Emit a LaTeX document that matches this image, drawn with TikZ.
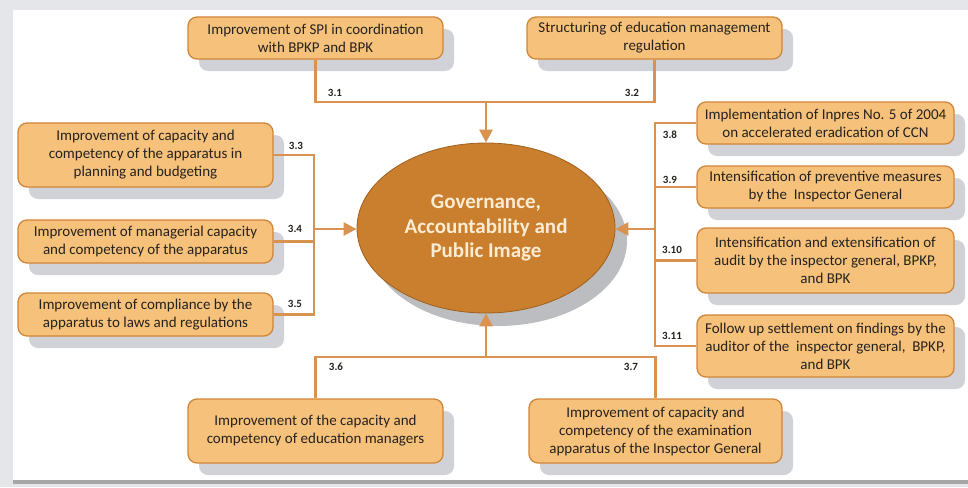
\documentclass[tikz,border=0pt]{standalone}
\usepackage{fontspec}
\setmainfont{Carlito}
\usepackage{tikz}
\usetikzlibrary{arrows.meta,positioning,shapes.geometric,shadows}
\definecolor{govbg}{RGB}{228,230,233}
\definecolor{govfill}{RGB}{246,193,122}
\definecolor{govedge}{RGB}{208,134,58}
\definecolor{govcore}{RGB}{201,127,46}
\definecolor{govrim}{RGB}{160,96,30}
\definecolor{govline}{RGB}{218,146,80}
\definecolor{govshade}{RGB}{208,210,215}
\definecolor{govtext}{RGB}{38,34,30}
\definecolor{govcream}{RGB}{252,236,212}

\begin{document}
\begin{tikzpicture}[
  x=1pt, y=-1pt,
  font=\fontsize{15}{18}\selectfont,
  goal/.style={draw=govedge, line width=1.3pt, fill=govfill, rounded corners=9pt, align=center,
               text=govtext, inner sep=2pt, minimum width=255pt,
               drop shadow={shadow xshift=11pt, shadow yshift=-12pt, fill=govshade, opacity=1}},
  core/.style={ellipse, draw=govrim, line width=0.8pt, fill=govcore, minimum width=258pt,
               minimum height=170pt, inner sep=0pt, align=center, text=govcream,
               font=\fontsize{21}{24.5}\selectfont\bfseries,
               drop shadow={shadow xshift=12pt, shadow yshift=-13pt, fill=govshade!90!black, opacity=1}},
  link/.style={govline, line width=2.6pt},
  arr/.style={link, -{Triangle[length=13pt,width=13pt]}},
  num/.style={font=\fontsize{11}{12}\selectfont\bfseries, text=govtext, inner sep=0pt}
]
\useasboundingbox (0,0) rectangle (968,487);
% ---- panel ----
\fill[govbg] (0,0) rectangle (968,487);
\fill[black!35] (13,480) rectangle (968,483.5);
\fill[white] (13,10) rectangle (968,480);
% ---- centre ----
\node[core] (gov) at (486,228) {Governance,\\Accountability and\\Public Image};
% ---- top row ----
\node[goal, minimum height=42pt] (g31) at (315.5,38) {Improvement of SPI in coordination\\with BPKP and BPK};
\node[goal, minimum height=42pt] (g32) at (654.5,38) {Structuring of education management\\regulation};
% ---- left column ----
\node[goal, minimum height=64pt] (g33) at (145.5,155) {Improvement of capacity and\\competency of the apparatus in\\planning and budgeting};
\node[goal, minimum height=43pt] (g34) at (145.5,241.5) {Improvement of managerial capacity\\and competency of the apparatus};
\node[goal, minimum height=43pt] (g35) at (145.5,314.5) {Improvement of compliance by the\\apparatus to laws and regulations};
% ---- bottom row ----
\node[goal, minimum height=64pt] (g36) at (315.5,431) {Improvement of the capacity and\\competency of education managers};
\node[goal, minimum height=64pt, minimum width=253pt] (g37) at (655.5,431) {Improvement of capacity and\\competency of the examination\\apparatus of the Inspector General};
% ---- right column ----
\node[goal, minimum height=42pt, minimum width=257pt] (g38) at (825.5,123) {Implementation of Inpres No. 5 of 2004\\on accelerated eradication of CCN};
\node[goal, minimum height=42pt, minimum width=257pt] (g39) at (825.5,187) {Intensification of preventive measures\\by the\ \ Inspector General};
\node[goal, minimum height=65pt, minimum width=257pt] (g310) at (825.5,260.5) {Intensification and extensification of\\audit by the inspector general, BPKP,\\and BPK};
\node[goal, minimum height=62pt, minimum width=257pt] (g311) at (825.5,346) {Follow up settlement on findings by the\\auditor of the\ \ inspector general,\ \ BPKP,\\and BPK};
% junctions
\coordinate (top) at (486,102);
\coordinate (lft) at (314,229);
\coordinate (rgt) at (655,229);
\coordinate (bot) at (486,357);
% ---- connectors ----
\draw[link] (g31.south) |- (top);
\draw[link] (g32.south) |- (top);
\draw[arr] (top) -- (gov.north);
\draw[link] (g33.east) -| (lft);
\draw[link] (g34.east) -| (lft);
\draw[link] (g35.east) -| (lft);
\draw[arr] (lft) -- (lft -| gov.west);
\draw[link] (g38.west) -| (rgt);
\draw[link] (g39.west) -| (rgt);
\draw[link] (g310.west) -| (rgt);
\draw[link] (g311.west) -| (rgt);
\draw[arr] (rgt) -- (rgt -| gov.east);
\draw[link] (g36.north) |- (bot);
\draw[link] (g37.north) |- (bot);
\draw[arr] (bot) -- (gov.south);
% ---- numbers ----
\node[num] (n31) at (335,93) {3.1};
\node[num] (n32) at (632,93) {3.2};
\node[num] (n33) at (296,146) {3.3};
\node[num] (n34) at (295,229) {3.4};
\node[num] (n35) at (295,304) {3.5};
\node[num] (n36) at (336,367) {3.6};
\node[num] (n37) at (631,367) {3.7};
\node[num] (n38) at (670,135) {3.8};
\node[num] (n39) at (670,180) {3.9};
\node[num] (n310) at (672,250) {3.10};
\node[num] (n311) at (672,336) {3.11};
\end{tikzpicture}
\end{document}
